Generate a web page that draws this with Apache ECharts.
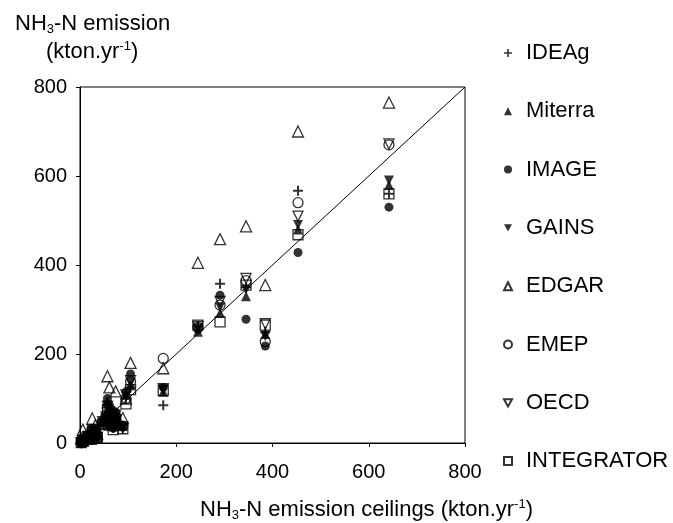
<!DOCTYPE html>
<html>
<head>
<meta charset="utf-8">
<script src="https://cdn.jsdelivr.net/npm/echarts@6/dist/echarts.min.js"></script>
<style>
  html, body { margin: 0; padding: 0; background: #fff; }
  #chartDiv { width: 673px; height: 523px; }
</style>
</head>
<body>
<div id="chartDiv"></div>
<script>
// NH3-N emission ceilings (kton N / yr) per EU-27 country
let countries = ['MT','LU','CY','SI','EE','FI','SK','LV','SE','AT','DK','GR','BE','CZ','LT','HU','PT','BG','IE','NL','RO','UK','ES','IT','PL','DE','FR'];
let ceilings  = [2.5, 5.8, 7.4, 16.5, 24, 25.5, 32, 36, 47, 54, 57, 60, 61, 66, 69, 74, 74, 89, 95.5, 105, 173, 245, 291, 345, 385, 453, 642];

// modelled emissions per model, same country order
let ideag      = [1, 4, 4, 14, 8, 28, 24, 12, 48, 58, 80, 42, 68, 58, 34, 55, 48, 32, 100, 125, 85, 262, 358, 350, 250, 567, 560];
let miterra    = [1, 5, 5, 15, 9, 30, 26, 14, 50, 60, 95, 50, 70, 62, 40, 60, 52, 38, 110, 130, 115, 250, 292, 330, 245, 480, 580];
let image      = [2, 6, 6, 16, 10, 25, 30, 15, 45, 55, 100, 40, 75, 65, 35, 70, 45, 40, 115, 155, 125, 255, 332, 278, 218, 428, 530];
let gains      = [1, 4, 5, 14, 9, 28, 25, 12, 46, 56, 85, 45, 64, 60, 33, 58, 50, 35, 105, 135, 120, 258, 305, 345, 240, 490, 590];
let edgar      = [10, 30, 12, 20, 15, 55, 40, 20, 45, 60, 150, 70, 125, 80, 40, 116, 60, 56, 100, 180, 168, 405, 458, 487, 355, 700, 765];
let emep       = [1, 4, 5, 16, 8, 30, 25, 12, 47, 55, 78, 44, 66, 62, 36, 60, 50, 38, 100, 138, 190, 260, 310, 365, 228, 540, 670];
let oecd       = [1, 5, 5, 15, 9, 30, 27, 13, 48, 58, 82, 48, 70, 64, 38, 62, 52, 36, 108, 140, 122, 262, 318, 370, 268, 510, 672];
let integrator = [1, 4, 4, 14, 8, 25, 22, 12, 42, 52, 75, 40, 62, 56, 30, 52, 45, 32, 88, 120, 118, 265, 272, 355, 265, 468, 560];

let axisTicks = [0, 200, 400, 600, 800];
let oneToOne = [[0, 0], [800, 800]];   // 1:1 line

let font = '"Liberation Sans", Arial, Helvetica, sans-serif';
let plusPath = 'path://M4,0H6V4H10V6H6V10H4V6H0V4H4Z';
let downTri = 'path://M0,0L10,0L5,9Z';

function pairs(ys){
    return ceilings.map((x, i) => [x, ys[i]]);
}

function markerSeries(name, ys, symbol, size, filled){
    return {
        name: name,
        type: 'scatter',
        data: pairs(ys),
        symbol: symbol,
        symbolSize: size,
        itemStyle: filled
            ? { color: '#000' }
            : { color: 'rgba(255,255,255,0)', borderColor: '#000', borderWidth: 1.3 },
        emphasis: { disabled: true },
        z: filled ? 3 : 4
    };
}

let rich = {
    a: { fontSize: 22, fontFamily: font, fontWeight: 'normal', color: '#000' },
    s: { fontSize: 13, fontFamily: font, fontWeight: 'normal', color: '#000', padding: [11, 0, 0, 0] },
    p: { fontSize: 13, fontFamily: font, fontWeight: 'normal', color: '#000', padding: [0, 0, 11, 0] }
};

let chartDom = document.getElementById('chartDiv');
let myChart = echarts.init(chartDom);
let option;

option = {
    backgroundColor: '#fff',
    animation: false,
    title: [
        { text: '{a|NH}{s|3}{a|-N emission}', left: 10, top: 7, textStyle: { rich: rich, fontWeight: 'normal' } },
        { text: '{a|(kton.yr}{p|-1}{a|)}', left: 41, top: 35, textStyle: { rich: rich, fontWeight: 'normal' } },
        { text: '{a|NH}{s|3}{a|-N emission ceilings (kton.yr}{p|-1}{a|)}', left: 195, top: 493, textStyle: { rich: rich, fontWeight: 'normal' } }
    ],
    legend: {
        orient: 'vertical',
        left: 498,
        top: 37,
        itemWidth: 8,
        itemHeight: 8,
        itemGap: 36.3,
        textStyle: { fontSize: 22, fontFamily: font, color: '#000', lineHeight: 22, padding: [0, 0, 0, 9] },
        data: ['IDEAg', 'Miterra', 'IMAGE', 'GAINS', 'EDGAR', 'EMEP', 'OECD', 'INTEGRATOR']
    },
    grid: {
        left: 80, right: 208, top: 87, bottom: 80,
        show: true, borderColor: '#000', borderWidth: 1, backgroundColor: 'transparent'
    },
    xAxis: {
        type: 'value', min: axisTicks[0], max: axisTicks[axisTicks.length - 1], interval: 200,
        axisLine: { show: true, lineStyle: { color: '#000', width: 1 } },
        axisTick: { show: true, inside: false, length: 4, lineStyle: { color: '#000' } },
        axisLabel: { fontSize: 20, fontFamily: font, color: '#000', margin: 19 },
        splitLine: { show: false }
    },
    yAxis: {
        type: 'value', min: axisTicks[0], max: axisTicks[axisTicks.length - 1], interval: 200,
        axisLine: { show: true, lineStyle: { color: '#000', width: 1 } },
        axisTick: { show: true, inside: false, length: 4, lineStyle: { color: '#000' } },
        axisLabel: { fontSize: 20, fontFamily: font, color: '#000', margin: 13 },
        splitLine: { show: false }
    },
    series: [
        {
            name: '1:1',
            type: 'line',
            data: oneToOne,
            showSymbol: false,
            silent: true,
            lineStyle: { color: '#000', width: 1 },
            z: 2
        },
        markerSeries('IDEAg', ideag, plusPath, 10, true),
        markerSeries('Miterra', miterra, 'triangle', 10, true),
        markerSeries('IMAGE', image, 'circle', 9, true),
        markerSeries('GAINS', gains, downTri, 10, true),
        markerSeries('EDGAR', edgar, 'triangle', 11, false),
        markerSeries('EMEP', emep, 'circle', 10, false),
        markerSeries('OECD', oecd, downTri, 10, false),
        markerSeries('INTEGRATOR', integrator, 'rect', 10, false)
    ]
};

option && myChart.setOption(option);
</script>
</body>
</html>
